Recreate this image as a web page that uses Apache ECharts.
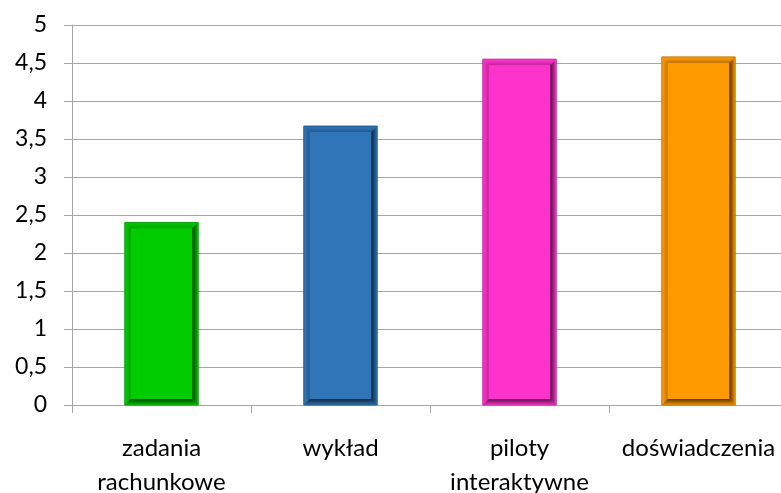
<!DOCTYPE html>
<html>
<head>
<meta charset="utf-8">
<script src="https://cdn.jsdelivr.net/npm/echarts@6/dist/echarts.min.js"></script>
<style>
  html, body { margin: 0; padding: 0; background: #ffffff; }
  #chart { width: 781px; height: 493px; }
</style>
</head>
<body>
<div id="chart"></div>
<script>
// Categories and mean scores
const categories = ['zadania\nrachunkowe', 'wykład', 'piloty\ninteraktywne', 'doświadczenia'];
const scores = [2.4, 3.67, 4.55, 4.58];
const barColors = ['#00CC00', '#2F75B8', '#FF33CC', '#FF9900'];

// darken a hex colour by factor f (0..1)
function shade(hex, f) {
  const n = parseInt(hex.slice(1), 16);
  const r = Math.round(((n >> 16) & 255) * f);
  const g = Math.round(((n >> 8) & 255) * f);
  const b = Math.round((n & 255) * f);
  return 'rgb(' + r + ',' + g + ',' + b + ')';
}

function grad(x0, y0, x1, y1, c0, c1) {
  return new echarts.graphic.LinearGradient(x0, y0, x1, y1, [
    { offset: 0, color: c0 }, { offset: 1, color: c1 }
  ]);
}

// beveled bar: outer frame with soft top/left and dark right/bottom edges
function renderBevelBar(params, api) {
  const idx = api.value(0);
  const top = api.coord([idx, api.value(1)]);
  const base = api.coord([idx, 0]);
  const w = api.size([1, 0])[0] * 0.41;
  const x = top[0] - w / 2;
  const y = top[1];
  const h = base[1] - top[1];
  const b = Math.min(6, h / 2);
  const c = barColors[idx];
  return {
    type: 'group',
    children: [
      { type: 'rect', shape: { x: x, y: y, width: w, height: h },
        style: { fill: c, stroke: shade(c, 0.75), lineWidth: 1 } },
      { type: 'polygon', shape: { points: [[x + 1, y + 1], [x + w - 1, y + 1], [x + w - b, y + b], [x + b, y + b]] },
        style: { fill: grad(0, 0, 0, 1, c, shade(c, 0.75)) } },
      { type: 'polygon', shape: { points: [[x + 1, y + 1], [x + b, y + b], [x + b, y + h - b], [x + 1, y + h - 1]] },
        style: { fill: grad(0, 0, 1, 0, c, shade(c, 0.75)) } },
      { type: 'polygon', shape: { points: [[x + w - 1, y + 1], [x + w - 1, y + h - 1], [x + w - b, y + h - b], [x + w - b, y + b]] },
        style: { fill: grad(0, 0, 1, 0, shade(c, 0.3), shade(c, 0.85)) } },
      { type: 'polygon', shape: { points: [[x + 1, y + h - 1], [x + w - 1, y + h - 1], [x + w - b, y + h - b], [x + b, y + h - b]] },
        style: { fill: grad(0, 0, 0, 1, shade(c, 0.35), shade(c, 0.85)) } },
      { type: 'rect', shape: { x: x + b, y: y + b, width: w - 2 * b, height: h - 2 * b },
        style: { fill: c } }
    ]
  };
}

const chart = echarts.init(document.getElementById('chart'), null, { renderer: 'canvas' });
const font = 'Lato, "Noto Sans", sans-serif';

chart.setOption({
  animation: false,
  backgroundColor: '#ffffff',
  grid: { left: 72, right: -7, top: 25, bottom: 88, containLabel: false, outerBoundsMode: 'none' },
  xAxis: {
    type: 'category',
    data: categories,
    axisLine: { show: true, lineStyle: { color: '#a6a6a6', width: 1 } },
    axisTick: { show: true, alignWithLabel: false, length: 8, lineStyle: { color: '#a6a6a6' } },
    axisLabel: {
      interval: 0, margin: 26, color: '#000000', fontFamily: font, fontSize: 24,
      lineHeight: 34, verticalAlign: 'top'
    },
    splitLine: { show: false }
  },
  yAxis: {
    type: 'value',
    min: 0, max: 5, interval: 0.5,
    axisLine: { show: true, lineStyle: { color: '#a6a6a6', width: 1 } },
    axisTick: { show: true, inside: false, length: 8, lineStyle: { color: '#a6a6a6' } },
    axisLabel: {
      margin: 25, color: '#000000', fontFamily: font, fontSize: 23,
      formatter: function (v) { return String(v).replace('.', ','); }
    },
    splitLine: { show: true, lineStyle: { color: '#a6a6a6', width: 1 } }
  },
  series: [{
    type: 'custom',
    renderItem: renderBevelBar,
    encode: { x: 0, y: 1 },
    data: scores.map(function (v, i) { return [i, v]; })
  }]
});
</script>
</body>
</html>
